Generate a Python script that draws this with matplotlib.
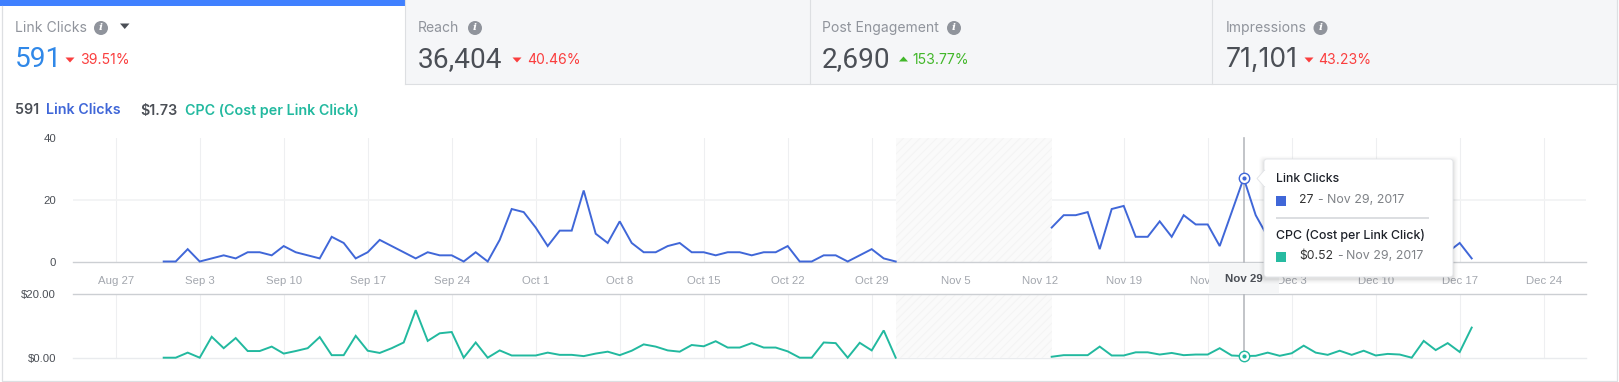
import datetime as dt
import numpy as np
import matplotlib
matplotlib.use("Agg")
import matplotlib.pyplot as plt
import matplotlib.dates as mdates
from matplotlib.patches import Rectangle, FancyBboxPatch, Circle, Polygon

# ---------- data ----------
clicks_before = [0, 0, 4, 0, 1, 2, 1, 3, 3, 2, 5, 3, 2, 1, 8, 6, 1, 3, 7, 5, 3, 1, 3, 2, 2, 0, 3, 0,
                 7, 17, 16, 11, 5, 10, 10, 23, 9, 6, 13, 6, 3, 3, 5, 6, 3, 3, 2, 3, 3, 2, 3, 3, 5,
                 0, 0, 2, 2, 0, 2, 4, 1, 0]
# Dec 2 - Dec 15 lie behind the tooltip in the reference and cannot be read
clicks_after = [11, 15, 15, 16, 4, 17, 18, 8, 8, 13, 8, 15, 12, 12, 5, 16, 27, 15, 8,
                None, None, None, None, None, None, None, None, None, None, None, None, None, None,
                3, 6, 1]
cpc_before = [0, 0, 1.6, 0, 6.6, 3, 6.2, 2.1, 2.1, 3.5, 1.3, 2.1, 3, 6.5, 0.8, 0.8, 6.9, 2.2, 1.5, 3,
              4.8, 15, 5.3, 7.7, 8.1, 0, 4.8, 0, 2.3, 0.7, 0.7, 0.7, 1.6, 0.9, 0.9, 0.5, 1.3, 1.9,
              0.8, 2.2, 4.2, 3.5, 2.3, 1.9, 4, 3.6, 5.2, 3.2, 3.2, 4.6, 3.2, 3.2, 2, 0, 0, 4.8, 4.6,
              0, 4.7, 2.3, 8.6, 0]
cpc_after = [0.3, 0.8, 0.8, 0.8, 3.5, 0.7, 0.7, 1.7, 1.7, 1, 1.5, 0.8, 1, 1, 3, 0.7, 0.52, 0.6, 1.6,
             0.6, 1.4, 3.8, 1.6, 0.9, 2.2, 0.9, 2.2, 0.7, 1.2, 1, 0, 5.3, 2.4, 4.6, 1.8, 9.5]
start_before = dt.date(2017, 8, 31)
start_after = dt.date(2017, 11, 13)
tick_dates = [dt.date(2017, 8, 27) + dt.timedelta(days=7 * i) for i in range(18)]
tick_labels = ["Aug 27", "Sep 3", "Sep 10", "Sep 17", "Sep 24", "Oct 1", "Oct 8", "Oct 15", "Oct 22",
               "Oct 29", "Nov 5", "Nov 12", "Nov 19", "Nov 26", "Dec 3", "Dec 10", "Dec 17", "Dec 24"]
no_data_span = (dt.date(2017, 10, 31), dt.date(2017, 11, 13))
focus_date = dt.date(2017, 11, 29)
focus_clicks = 27
focus_cpc = 0.52
tabs = [("Link Clicks", "591", "39.51%", False), ("Reach", "36,404", "40.46%", False),
        ("Post Engagement", "2,690", "153.77%", True), ("Impressions", "71,101", "43.23%", False)]
clicks_yticks = [0, 20, 40]
clicks_ylabels = ["0", "20", "40"]
cpc_yticks = [0, 20]
cpc_ylabels = ["$0.00", "$20.00"]

# ---------- style ----------
W, H = 1619, 382
BLUE, TEAL = "#4067d8", "#22b99f"
GREY_TXT, DARK = "#90949c", "#4b4f56"
BORDER = "#dddfe2"
RED, GREEN = "#fa3e3e", "#42b72a"
UI = "Inter"
CH = "Liberation Sans"
px = 0.72  # 1 px in points at dpi 100

fig = plt.figure(figsize=(W / 100, H / 100), dpi=100, facecolor="white")


def overlay(z):
    a = fig.add_axes([0, 0, 1, 1], zorder=z)
    a.set_xlim(0, W)
    a.set_ylim(H, 0)
    a.axis("off")
    a.patch.set_alpha(0)
    return a


bg = overlay(0)
fg = overlay(10)


def T(a, x, y, s, size, color, font=UI, weight="normal", ha="left", va="center", **kw):
    return a.text(x, y, s, fontsize=size * px, color=color, family=font, fontweight=weight,
                  ha=ha, va=va, **kw)


# ---------- tabs ----------
label_x = [14.5, 418, 822, 1225.5]
icon_x = [101, 475, 954, 1320.5]
tri_x = [70, 517, 903.5, 1309]
pct_x = [80.5, 527, 912, 1318.5]
num_font = ["Roboto", "Roboto", "Roboto", "Inter"]
num_size = [28, 28, 28, 26.5]
TAB_B = 84
bg.add_patch(Rectangle((404.5, 0), 1212.5, TAB_B, fc="#f5f6f8", ec="none"))
for ex in (404.5, 809.5, 1212):
    bg.plot([ex, ex], [0, TAB_B], color=BORDER, lw=0.8)
bg.plot([404.5, 1617], [TAB_B, TAB_B], color=BORDER, lw=0.8)
bg.add_patch(Rectangle((0, 0), 404.5, 6, fc="#4080ff", ec="none"))
bg.plot([1.5, 1.5, 1617, 1617], [6, 380.5, 380.5, 0], color=BORDER, lw=0.9)
for i, (name, num, pct, up) in enumerate(tabs):
    T(bg, label_x[i], 28, name, 14, GREY_TXT)
    T(bg, label_x[i], 59.5, num, num_size[i], "#3088e8" if i == 0 else DARK, font=num_font[i])
    bg.add_patch(Circle((icon_x[i], 28), 7, fc=GREY_TXT, ec="none"))
    T(bg, icon_x[i], 28, "i", 10.5, "white", font="DejaVu Serif", weight="bold", ha="center", style="italic")
    tx = tri_x[i]
    col = GREEN if up else RED
    pts = [(tx - 4.5, 61.5), (tx + 4.5, 61.5), (tx, 56.5)] if up else [(tx - 4.5, 57.5), (tx + 4.5, 57.5), (tx, 62.5)]
    bg.add_patch(Polygon(pts, fc=col, ec="none"))
    T(bg, pct_x[i], 60, pct, 14, col)
bg.add_patch(Polygon([(120, 23.5), (129.5, 23.5), (124.75, 29)], fc=DARK, ec="none"))

# ---------- summary row ----------
T(bg, 14.5, 110.5, "591", 14.3, DARK, weight="semibold")
T(bg, 45.5, 110.5, "Link Clicks", 14.3, BLUE, weight="semibold")
T(bg, 140.5, 110.5, "$1.73", 14.3, DARK, weight="semibold")
T(bg, 185, 110.5, "CPC (Cost per Link Click)", 14.3, TEAL, weight="semibold")

# ---------- chart axes ----------
AX_L, AX_R = 73, 1585.7


def data_axes(y_top, y_bot):
    a = fig.add_axes([AX_L / W, 1 - y_bot / H, (AX_R - AX_L) / W, (y_bot - y_top) / H], zorder=5)
    a.patch.set_alpha(0)
    for s in a.spines.values():
        s.set_visible(False)
    d0 = mdates.date2num(tick_dates[0])
    a.set_xlim(d0 + (AX_L - 115.7) / 12, d0 + (AX_R - 115.7) / 12)
    a.tick_params(length=0)
    a.set_axisbelow(True)
    return a


def series(start, values):
    days = [mdates.date2num(start) + k for k in range(len(values))]
    return days, [np.nan if v is None else v for v in values]


def common(a):
    for d in tick_dates:
        a.axvline(mdates.date2num(d), color="#eeeff1", lw=0.8, zorder=1)
    a.add_patch(Rectangle((mdates.date2num(no_data_span[0]), 0),
                          mdates.date2num(no_data_span[1]) - mdates.date2num(no_data_span[0]),
                          a.get_ylim()[1], fc="#fafafa", ec="#f4f4f4", hatch="////", lw=0, zorder=1.5))


plt.rcParams["hatch.linewidth"] = 0.8
top = data_axes(138, 261.5)
top.set_ylim(0, 40)
common(top)
top.axhline(20, color="#f2f3f4", lw=1.3, zorder=1.2)
top.axhline(0, color="#cccfd3", lw=1.0, zorder=2, clip_on=False)
low = data_axes(294.3, 357.7)
low.set_ylim(0, 20)
common(low)
low.axhline(0, color="#e9ebee", lw=1.0, zorder=1.2, clip_on=False)
low.axhline(20, color="#cccfd3", lw=1.0, zorder=2, clip_on=False)

for a, first, second, c in [(top, clicks_before, clicks_after, BLUE), (low, cpc_before, cpc_after, TEAL)]:
    for start, vals in [(start_before, first), (start_after, second)]:
        xs, ys = series(start, vals)
        a.plot(xs, ys, color=c, lw=1.4, zorder=3, solid_joinstyle="miter", clip_on=False)

LABEL_PAD = (73 - 56) * px
top.set_yticks(clicks_yticks, clicks_ylabels, fontsize=8.2, color=DARK, family=CH)
low.set_yticks(cpc_yticks, cpc_ylabels, fontsize=8.2, color=DARK, family=CH)
top.tick_params(axis="y", pad=LABEL_PAD)
low.tick_params(axis="y", pad=LABEL_PAD)
tick_nums = [mdates.date2num(d) for d in tick_dates]
top.set_xticks(tick_nums, tick_labels, fontsize=8.2, color="#a3a7ae", family=CH)
top.tick_params(axis="x", pad=10.5)
low.set_xticks([])

# crosshair and focus
fx = mdates.date2num(focus_date)
for a in (top, low):
    a.axvline(fx, color="#b7babf", lw=1.2, zorder=2.5, clip_on=False)
top.plot([fx], [focus_clicks], "o", ms=7.5, mfc="white", mec=BLUE, mew=1, zorder=4, clip_on=False)
top.plot([fx], [focus_clicks], "o", ms=3, mfc=BLUE, mec=BLUE, mew=0, zorder=5, clip_on=False)
low.plot([fx], [focus_cpc], "o", ms=7.5, mfc="white", mec=TEAL, mew=1, zorder=4, clip_on=False)
low.plot([fx], [focus_cpc], "o", ms=3, mfc=TEAL, mec=TEAL, mew=0, zorder=5, clip_on=False)

# ---------- focused date label ----------
fg.add_patch(Rectangle((1209, 262.5), 70, 31, fc="#f5f6f7", ec="none", zorder=1))
T(fg, 1244, 279.5, "Nov 29", 11.5, DARK, font=CH, weight="bold", ha="center", zorder=2)

# ---------- tooltip ----------
X0, X1, Y0, Y1 = 1264, 1453, 159, 277
for grow, alpha in [(5, 0.012), (4, 0.015), (3, 0.02), (2, 0.03), (1, 0.04)]:
    fg.add_patch(FancyBboxPatch((X0 - grow, Y0 - grow + 2), X1 - X0 + 2 * grow, Y1 - Y0 + 2 * grow,
                                boxstyle="round,pad=0,rounding_size=4", fc="black", ec="none", alpha=alpha, zorder=3))
fg.add_patch(FancyBboxPatch((X0, Y0), X1 - X0, Y1 - Y0, boxstyle="round,pad=0,rounding_size=3",
                            fc="white", ec="#e4e6e9", lw=0.7, zorder=4))
fg.add_patch(Polygon([(X0 + 0.6, 170), (1257, 178.5), (X0 + 0.6, 187)], fc="white", ec="#e4e6e9", lw=0.7, zorder=4))
fg.add_patch(Rectangle((X0 - 0.5, 171), 2, 15, fc="white", ec="none", zorder=4.5))
DARK2 = "#1d2129"
T(fg, 1276, 178.5, "Link Clicks", 12.2, DARK2, weight="medium", zorder=5)
T(fg, 1276, 235, "CPC (Cost per Link Click)", 12.4, DARK2, weight="medium", zorder=5)
fg.add_patch(Rectangle((1276, 196), 10, 10, fc=BLUE, ec="none", zorder=5))
fg.add_patch(Rectangle((1276, 252), 10, 10, fc="#27bba1", ec="none", zorder=5))
fg.plot([1276, 1429], [218, 218], color="#d9dbde", lw=1.3, zorder=5, solid_capstyle="butt")
T(fg, 1299, 200, "27", 12.2, "#333", zorder=5)
T(fg, 1317, 200, "-", 12.2, "#7f8287", zorder=5)
T(fg, 1327, 200, "Nov 29, 2017", 12.4, "#7f8287", zorder=5)
T(fg, 1299, 256, "$0.52", 12.2, "#333", zorder=5)
T(fg, 1337, 256, "-", 12.2, "#7f8287", zorder=5)
T(fg, 1346, 256, "Nov 29, 2017", 12.4, "#7f8287", zorder=5)

fig.savefig("out.png", dpi=100)
